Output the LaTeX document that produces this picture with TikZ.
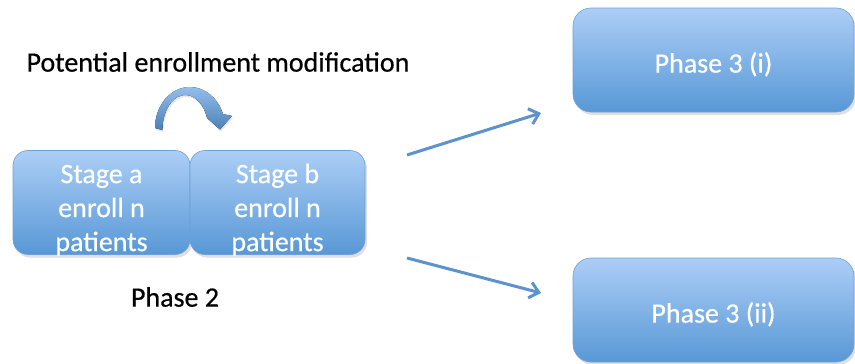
\documentclass[tikz,border=0pt]{standalone}
\usepackage{fontspec}
\setmainfont{Carlito}
\newfontfamily\semib{Carlito}[FakeBold=0.5]
\usetikzlibrary{arrows.meta,shadows}
\definecolor{boxtop}{RGB}{172,206,246}
\definecolor{boxbot}{RGB}{88,152,214}
\definecolor{boxedge}{RGB}{110,160,215}
\definecolor{arrowcol}{RGB}{92,146,206}
\newcommand{\boxtxt}[2]{\raisebox{#1}[0pt][0pt]{\begin{tabular}{@{}c@{}}#2\end{tabular}}}
\tikzset{
  bluebox/.style={rounded corners=15pt, top color=boxtop, bottom color=boxbot,
    draw=boxedge, line width=0.6pt, text=white, align=center,
    inner sep=0pt, font=\fontsize{28}{34}\selectfont\semib,
    drop shadow={shadow xshift=2pt, shadow yshift=-3pt, opacity=0.25}},
  plainlabel/.style={font=\fontsize{28}{32}\selectfont\semib, text=black, inner sep=0pt},
  flowarrow/.style={draw=arrowcol, line width=3pt,
    -{Straight Barb[length=9pt,width=16pt,line width=3pt]}}
}
\begin{document}
\begin{tikzpicture}[x=1pt,y=-1pt]
\useasboundingbox (0,0) rectangle (855,364);
% stage boxes
\node[bluebox, minimum width=177pt, minimum height=104pt] (sa) at (101.5,202.5)
  {\boxtxt{-14pt}{Stage a\\enroll n\\patients}};
\node[bluebox, minimum width=175pt, minimum height=104pt] (sb) at (277.5,202.5)
  {\boxtxt{-14pt}{Stage b\\enroll n\\patients}};
% phase 3 boxes
\node[bluebox, rounded corners=18pt, minimum width=281pt, minimum height=104pt] (p1) at (713.5,60)
  {\boxtxt{-12pt}{Phase 3 (i)}};
\node[bluebox, rounded corners=18pt, minimum width=281pt, minimum height=104pt] (p2) at (713.5,310)
  {\boxtxt{-12pt}{Phase 3 (ii)}};
% labels
\node[plainlabel] (title) at (218,62) {Potential enrollment modification};
\node[plainlabel] (ph2) at (175,297) {Phase 2};
% curved arrow
\fill[top color=boxtop!70!boxbot, bottom color=boxbot!85!black,
      drop shadow={shadow xshift=1pt, shadow yshift=-2pt, opacity=0.2}]
  (155,128) arc[start angle=180, end angle=20, x radius=35pt, y radius=41pt]
  -- (232,116) -- (220,129.5) -- (207,118)
  arc[start angle=20, end angle=180, x radius=23pt, y radius=35pt] -- cycle;
% straight arrows
\coordinate (u1) at (407,155);
\coordinate (u2) at (541,113);
\coordinate (l1) at (407,258);
\coordinate (l2) at (541,293);
\draw[flowarrow] (u1) -- (u2);
\draw[flowarrow] (l1) -- (l2);
\end{tikzpicture}
\end{document}
